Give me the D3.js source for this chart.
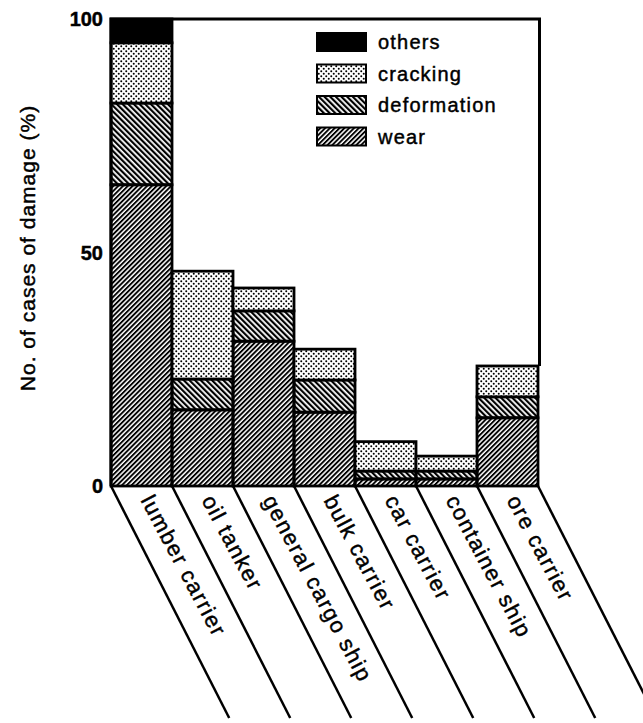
<!DOCTYPE html>
<html>
<head>
<meta charset="utf-8">
<script src="https://cdn.jsdelivr.net/npm/d3@7"></script>
<style>
  body { margin: 0; background: #fff; }
  text { font-family: "Liberation Sans", Arial, sans-serif; fill: #000; stroke: #000; stroke-width: 0.45px; }
</style>
</head>
<body>
<script>
// ship types and damage share (%) per type, stacked bottom to top
var ships = ["lumber carrier", "oil tanker", "general cargo ship", "bulk carrier",
  "car carrier", "container ship", "ore carrier"];
var wear = [64.5, 16.3, 31.0, 15.8, 1.5, 1.5, 14.6];
var deformation = [17.5, 6.6, 6.5, 6.9, 1.7, 1.7, 4.5];
var cracking = [12.9, 23.1, 4.9, 6.6, 6.3, 3.2, 6.6];
var others = [5.1, 0, 0, 0, 0, 0, 0];

var kinds = ["wear", "deformation", "cracking", "others"];
var legendOrder = ["others", "cracking", "deformation", "wear"];
var yTicks = [0, 50, 100];

var W = 643, H = 723;

var svg = d3.select("body").append("svg")
  .attr("width", W)
  .attr("height", H);

// fill patterns
var defs = svg.append("defs");

defs.append("pattern")
  .attr("id", "p-wear")
  .attr("patternUnits", "userSpaceOnUse")
  .attr("width", 3.4).attr("height", 3.4)
  .attr("patternTransform", "rotate(45)")
  .append("rect")
  .attr("width", 1.9).attr("height", 3.4)
  .attr("fill", "#000");

defs.append("pattern")
  .attr("id", "p-deformation")
  .attr("patternUnits", "userSpaceOnUse")
  .attr("width", 4).attr("height", 4)
  .attr("patternTransform", "rotate(-45)")
  .append("rect")
  .attr("width", 2.2).attr("height", 4)
  .attr("fill", "#000");

var dots = defs.append("pattern")
  .attr("id", "p-cracking")
  .attr("patternUnits", "userSpaceOnUse")
  .attr("width", 5).attr("height", 5);
dots.append("rect").attr("width", 5).attr("height", 5).attr("fill", "#fff");
dots.append("circle").attr("cx", 1.25).attr("cy", 1.25).attr("r", 1).attr("fill", "#000");
dots.append("circle").attr("cx", 3.75).attr("cy", 3.75).attr("r", 1).attr("fill", "#000");

var fills = {
  wear: "url(#p-wear)",
  deformation: "url(#p-deformation)",
  cracking: "url(#p-cracking)",
  others: "#000"
};

var x = d3.scaleBand()
  .domain(ships)
  .range([111, 538])
  .padding(0);

var y = d3.scaleLinear()
  .domain([0, 100])
  .range([486, 19]);

// stack the table
var table = ships.map(function (s, i) {
  return { ship: s, wear: wear[i], deformation: deformation[i], cracking: cracking[i], others: others[i] };
});
var series = d3.stack().keys(kinds)(table);

var g = svg.append("g");

series.forEach(function (layer) {
  g.selectAll(null)
    .data(layer.filter(function (d) { return d[1] - d[0] > 0; }))
    .enter()
    .append("rect")
    .attr("x", function (d) { return x(d.data.ship); })
    .attr("y", function (d) { return y(d[1]); })
    .attr("width", x.bandwidth())
    .attr("height", function (d) { return y(d[0]) - y(d[1]); })
    .attr("fill", fills[layer.key])
    .attr("stroke", "#000")
    .attr("stroke-width", 2.8);
});

// frame: left axis, top line, right side down to last bar
var lastTop = d3.sum(kinds, function (k) { return table[table.length - 1][k]; });
var xr = x.range()[1] + 1.5;
svg.append("path")
  .attr("d", "M" + x.range()[0] + "," + y(0) + "V" + y(100) + "H" + xr + "V" + y(lastTop))
  .attr("fill", "none")
  .attr("stroke", "#000")
  .attr("stroke-width", 3);

// y tick labels
svg.selectAll(".tick")
  .data(yTicks)
  .enter()
  .append("text")
  .attr("x", 103)
  .attr("y", function (d) { return y(d); })
  .attr("dy", "0.35em")
  .attr("text-anchor", "end")
  .style("font-size", "20px")
  .style("font-weight", "bold")
  .text(function (d) { return d; });

// y axis title
svg.append("text")
  .attr("transform", "translate(35," + 248 + ") rotate(-90)")
  .attr("text-anchor", "middle")
  .style("font-size", "21px")
  .style("letter-spacing", "1px")
  .text("No. of cases of damage (%)");

// slanted category strips under the baseline
var ang = 63 * Math.PI / 180;
var yEnd = 718;
var edges = ships.map(function (s) { return x(s); }).concat([x.range()[1]]);

svg.selectAll(".strip")
  .data(edges)
  .enter()
  .append("line")
  .attr("x1", function (d) { return d; })
  .attr("y1", y(0))
  .attr("x2", function (d) { return d + (yEnd - y(0)) / Math.tan(ang); })
  .attr("y2", yEnd)
  .attr("stroke", "#000")
  .attr("stroke-width", 2.5);

var ta = 62 * Math.PI / 180;
svg.selectAll(".xlab")
  .data(ships)
  .enter()
  .append("text")
  .attr("transform", function (d) {
    var cx = x(d) + x.bandwidth() / 2 + 12 * Math.cos(ta);
    var cy = y(0) + 12 * Math.sin(ta);
    return "translate(" + cx + "," + cy + ") rotate(62)";
  })
  .attr("dy", "0.35em")
  .style("font-size", "22px")
  .style("letter-spacing", "1.5px")
  .text(function (d) { return d; });

// legend
var leg = svg.append("g");
legendOrder.forEach(function (k, i) {
  var cy = 42 + i * 31.5;
  leg.append("rect")
    .attr("x", 317).attr("y", cy - 9)
    .attr("width", 49).attr("height", 18)
    .attr("fill", fills[k])
    .attr("stroke", "#000")
    .attr("stroke-width", 2);
  leg.append("text")
    .attr("x", 378).attr("y", cy)
    .attr("dy", "0.35em")
    .style("font-size", "20px")
    .style("letter-spacing", "1.2px")
    .text(k);
});
</script>
</body>
</html>
